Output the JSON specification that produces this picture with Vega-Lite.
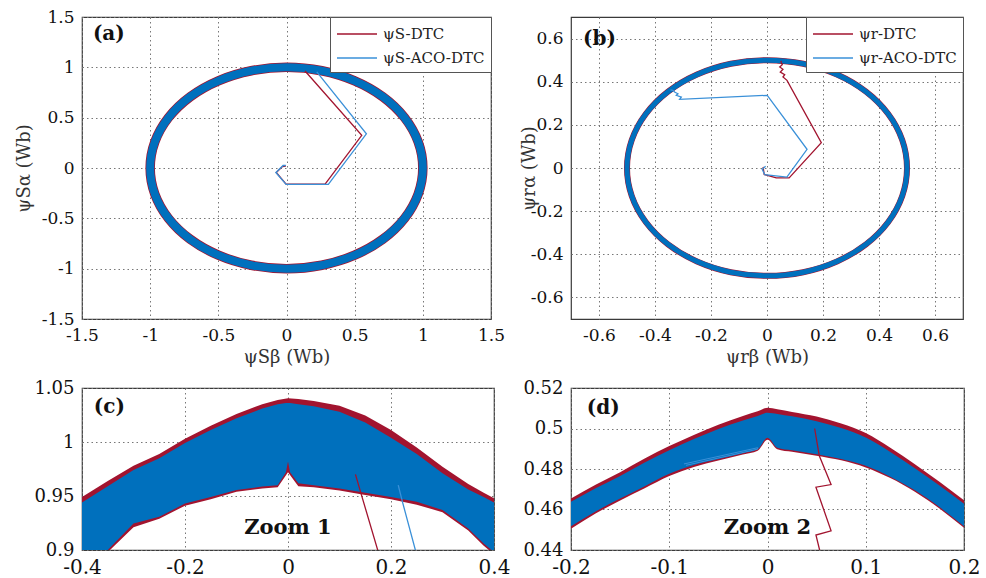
{
  "$schema": "https://vega.github.io/schema/vega-lite/v6.json",
  "background": "white",
  "padding": {"left": 14, "top": 7, "right": 4, "bottom": 2},
  "datasets": {
    "ring1": [
      {"i":0,"b":0,"a":1},{"i":1,"b":0.2588,"a":0.9659},{"i":2,"b":0.5,"a":0.866},{"i":3,"b":0.7071,"a":0.7071},
      {"i":4,"b":0.866,"a":0.5},{"i":5,"b":0.9659,"a":0.2588},{"i":6,"b":1,"a":0},{"i":7,"b":0.9659,"a":-0.2588},
      {"i":8,"b":0.866,"a":-0.5},{"i":9,"b":0.7071,"a":-0.7071},{"i":10,"b":0.5,"a":-0.866},{"i":11,"b":0.2588,"a":-0.9659},
      {"i":12,"b":0,"a":-1},{"i":13,"b":-0.2588,"a":-0.9659},{"i":14,"b":-0.5,"a":-0.866},{"i":15,"b":-0.7071,"a":-0.7071},
      {"i":16,"b":-0.866,"a":-0.5},{"i":17,"b":-0.9659,"a":-0.2588},{"i":18,"b":-1,"a":0},{"i":19,"b":-0.9659,"a":0.2588},
      {"i":20,"b":-0.866,"a":0.5},{"i":21,"b":-0.7071,"a":0.7071},{"i":22,"b":-0.5,"a":0.866},{"i":23,"b":-0.2588,"a":0.9659}
    ],
    "ring2": [
      {"i":0,"b":0,"a":0.5},{"i":1,"b":0.1294,"a":0.483},{"i":2,"b":0.25,"a":0.433},{"i":3,"b":0.3536,"a":0.3536},
      {"i":4,"b":0.433,"a":0.25},{"i":5,"b":0.483,"a":0.1294},{"i":6,"b":0.5,"a":0},{"i":7,"b":0.483,"a":-0.1294},
      {"i":8,"b":0.433,"a":-0.25},{"i":9,"b":0.3536,"a":-0.3536},{"i":10,"b":0.25,"a":-0.433},{"i":11,"b":0.1294,"a":-0.483},
      {"i":12,"b":0,"a":-0.5},{"i":13,"b":-0.1294,"a":-0.483},{"i":14,"b":-0.25,"a":-0.433},{"i":15,"b":-0.3536,"a":-0.3536},
      {"i":16,"b":-0.433,"a":-0.25},{"i":17,"b":-0.483,"a":-0.1294},{"i":18,"b":-0.5,"a":0},{"i":19,"b":-0.483,"a":0.1294},
      {"i":20,"b":-0.433,"a":0.25},{"i":21,"b":-0.3536,"a":0.3536},{"i":22,"b":-0.25,"a":0.433},{"i":23,"b":-0.1294,"a":0.483}
    ],
    "pathA": [
      {"s":"ψS-DTC","i":0,"b":-0.005,"a":0.02},{"s":"ψS-DTC","i":1,"b":-0.03,"a":0.015},{"s":"ψS-DTC","i":2,"b":-0.075,"a":-0.045},
      {"s":"ψS-DTC","i":3,"b":-0.003,"a":-0.16},{"s":"ψS-DTC","i":4,"b":0.283,"a":-0.16},{"s":"ψS-DTC","i":5,"b":0.552,"a":0.325},
      {"s":"ψS-DTC","i":6,"b":0.136,"a":0.964},
      {"s":"ψS-ACO-DTC","i":0,"b":-0.005,"a":0.025},{"s":"ψS-ACO-DTC","i":1,"b":-0.025,"a":0.025},{"s":"ψS-ACO-DTC","i":2,"b":-0.078,"a":-0.045},
      {"s":"ψS-ACO-DTC","i":3,"b":-0.003,"a":-0.163},{"s":"ψS-ACO-DTC","i":4,"b":0.307,"a":-0.163},{"s":"ψS-ACO-DTC","i":5,"b":0.586,"a":0.34},
      {"s":"ψS-ACO-DTC","i":6,"b":0.222,"a":0.954}
    ],
    "pathB": [
      {"s":"ψr-DTC","i":0,"b":-0.014,"a":0.005},{"s":"ψr-DTC","i":1,"b":-0.01,"a":-0.03},{"s":"ψr-DTC","i":2,"b":0.033,"a":-0.046},
      {"s":"ψr-DTC","i":3,"b":0.079,"a":-0.046},{"s":"ψr-DTC","i":4,"b":0.194,"a":0.117},{"s":"ψr-DTC","i":5,"b":0.0714,"a":0.4065},
      {"s":"ψr-DTC","i":6,"b":0.057,"a":0.4218},{"s":"ψr-DTC","i":7,"b":0.0632,"a":0.4325},{"s":"ψr-DTC","i":8,"b":0.0475,"a":0.445},
      {"s":"ψr-DTC","i":9,"b":0.057,"a":0.4575},{"s":"ψr-DTC","i":10,"b":0.0454,"a":0.4682},{"s":"ψr-DTC","i":11,"b":0.0546,"a":0.4789},
      {"s":"ψr-DTC","i":12,"b":0.0511,"a":0.4881},{"s":"ψr-DTC","i":13,"b":0.05,"a":0.497},
      {"s":"ψr-ACO-DTC","i":0,"b":-0.005,"a":0.008},{"s":"ψr-ACO-DTC","i":1,"b":-0.017,"a":-0.006},{"s":"ψr-ACO-DTC","i":2,"b":-0.008,"a":-0.031},
      {"s":"ψr-ACO-DTC","i":3,"b":0.071,"a":-0.042},{"s":"ψr-ACO-DTC","i":4,"b":0.143,"a":0.0866},{"s":"ψr-ACO-DTC","i":5,"b":0.001,"a":0.337},
      {"s":"ψr-ACO-DTC","i":6,"b":-0.312,"a":0.3185},{"s":"ψr-ACO-DTC","i":7,"b":-0.306,"a":0.329},{"s":"ψr-ACO-DTC","i":8,"b":-0.324,"a":0.337},
      {"s":"ψr-ACO-DTC","i":9,"b":-0.318,"a":0.344},{"s":"ψr-ACO-DTC","i":10,"b":-0.33,"a":0.352},{"s":"ψr-ACO-DTC","i":11,"b":-0.336,"a":0.36},
      {"s":"ψr-ACO-DTC","i":12,"b":-0.345,"a":0.362}
    ],
    "bandCr": [
      {"b":-0.4,"lo":0.885,"hi":0.949},{"b":-0.35,"lo":0.898,"hi":0.964},{"b":-0.3,"lo":0.921,"hi":0.978},{"b":-0.25,"lo":0.929,"hi":0.989},
      {"b":-0.2,"lo":0.941,"hi":1.003},{"b":-0.15,"lo":0.947,"hi":1.015},{"b":-0.1,"lo":0.954,"hi":1.026},{"b":-0.05,"lo":0.957,"hi":1.035},
      {"b":-0.02,"lo":0.958,"hi":1.039},{"b":0,"lo":0.972,"hi":1.0404},{"b":0.02,"lo":0.959,"hi":1.0398},{"b":0.05,"lo":0.958,"hi":1.0379},
      {"b":0.1,"lo":0.955,"hi":1.0335},{"b":0.15,"lo":0.951,"hi":1.0245},{"b":0.2,"lo":0.947,"hi":1.011},{"b":0.25,"lo":0.942,"hi":0.995},
      {"b":0.3,"lo":0.935,"hi":0.977},{"b":0.35,"lo":0.918,"hi":0.961},{"b":0.38,"lo":0.904,"hi":0.953},{"b":0.4,"lo":0.896,"hi":0.948}
    ],
    "bandCb": [
      {"b":-0.4,"lo":0.887,"hi":0.944},{"b":-0.35,"lo":0.9,"hi":0.959},{"b":-0.3,"lo":0.9245,"hi":0.974},{"b":-0.25,"lo":0.9307,"hi":0.985},
      {"b":-0.2,"lo":0.943,"hi":0.999},{"b":-0.15,"lo":0.949,"hi":1.011},{"b":-0.1,"lo":0.9556,"hi":1.022},{"b":-0.05,"lo":0.9587,"hi":1.031},
      {"b":-0.02,"lo":0.96,"hi":1.035},{"b":-0.004,"lo":0.972,"hi":1.036},{"b":0,"lo":0.982,"hi":1.036},{"b":0.004,"lo":0.972,"hi":1.036},{"b":0.02,"lo":0.9618,"hi":1.035},{"b":0.05,"lo":0.96,"hi":1.033},
      {"b":0.1,"lo":0.957,"hi":1.028},{"b":0.15,"lo":0.953,"hi":1.018},{"b":0.2,"lo":0.949,"hi":1.004},{"b":0.25,"lo":0.9447,"hi":0.989},
      {"b":0.3,"lo":0.937,"hi":0.971},{"b":0.35,"lo":0.92,"hi":0.956},{"b":0.38,"lo":0.906,"hi":0.949},{"b":0.4,"lo":0.898,"hi":0.944}
    ],
    "lineC": [
      {"s":"S-DTC","i":0,"b":0.131,"a":0.97},{"s":"S-DTC","i":1,"b":0.142,"a":0.952},{"s":"S-DTC","i":2,"b":0.176,"a":0.897},
      {"s":"S-ACO-DTC","i":0,"b":0.214,"a":0.96},{"s":"S-ACO-DTC","i":1,"b":0.222,"a":0.945},{"s":"S-ACO-DTC","i":2,"b":0.249,"a":0.897}
    ],
    "bandDr": [
      {"b":-0.2,"lo":0.4505,"hi":0.4654},{"b":-0.175,"lo":0.458,"hi":0.4722},{"b":-0.15,"lo":0.4645,"hi":0.4784},{"b":-0.125,"lo":0.4705,"hi":0.4852},
      {"b":-0.1,"lo":0.4765,"hi":0.4913},{"b":-0.075,"lo":0.481,"hi":0.4968},{"b":-0.05,"lo":0.4842,"hi":0.5019},{"b":-0.025,"lo":0.4872,"hi":0.5062},
      {"b":-0.01,"lo":0.489,"hi":0.5085},{"b":0,"lo":0.4945,"hi":0.5102},{"b":0.01,"lo":0.4898,"hi":0.5095},{"b":0.025,"lo":0.4885,"hi":0.5082},
      {"b":0.05,"lo":0.4866,"hi":0.5059},{"b":0.075,"lo":0.4843,"hi":0.5025},{"b":0.1,"lo":0.4808,"hi":0.4978},{"b":0.125,"lo":0.4755,"hi":0.4905},
      {"b":0.15,"lo":0.4688,"hi":0.4824},{"b":0.175,"lo":0.4605,"hi":0.4737},{"b":0.2,"lo":0.451,"hi":0.4646}
    ],
    "bandDb": [
      {"b":-0.2,"lo":0.4517,"hi":0.4638},{"b":-0.175,"lo":0.459,"hi":0.4705},{"b":-0.15,"lo":0.4654,"hi":0.4766},{"b":-0.125,"lo":0.4715,"hi":0.4832},
      {"b":-0.1,"lo":0.4776,"hi":0.4893},{"b":-0.075,"lo":0.482,"hi":0.4948},{"b":-0.05,"lo":0.4849,"hi":0.4998},{"b":-0.025,"lo":0.4878,"hi":0.504},
      {"b":-0.01,"lo":0.4897,"hi":0.5062},{"b":0,"lo":0.4954,"hi":0.5078},{"b":0.01,"lo":0.4905,"hi":0.5072},{"b":0.025,"lo":0.4892,"hi":0.506},
      {"b":0.05,"lo":0.4873,"hi":0.5036},{"b":0.075,"lo":0.485,"hi":0.5002},{"b":0.1,"lo":0.4816,"hi":0.4955},{"b":0.125,"lo":0.4762,"hi":0.4884},
      {"b":0.15,"lo":0.4695,"hi":0.4804},{"b":0.175,"lo":0.4612,"hi":0.4718},{"b":0.2,"lo":0.4517,"hi":0.4628}
    ],
    "lineD": [
      {"s":"r-DTC","i":0,"b":0.048,"a":0.5},{"s":"r-DTC","i":1,"b":0.0527,"a":0.4865},{"s":"r-DTC","i":2,"b":0.0647,"a":0.4723},
      {"s":"r-DTC","i":3,"b":0.0493,"a":0.471},{"s":"r-DTC","i":4,"b":0.0647,"a":0.4495},{"s":"r-DTC","i":5,"b":0.0493,"a":0.4474},
      {"s":"r-DTC","i":6,"b":0.0534,"a":0.4393}
    ],
    "lineDb": [
      {"i":0,"b":-0.085,"a":0.4825},{"i":1,"b":-0.01,"a":0.4905},{"i":2,"b":-0.01,"a":0.4898},{"i":3,"b":-0.083,"a":0.4818}
    ]
  },
  "columns": 2,
  "align": "none",
  "bounds": "flush",
  "spacing": {"row": 69, "column": 77},
  "resolve": {
    "scale": {"x": "independent", "y": "independent", "color": "independent"},
    "legend": {"color": "independent"}
  },
  "concat": [
    {
      "width": 409, "height": 302,
      "layer": [
        {
          "data": {"name": "ring1"},
          "mark": {"type": "line", "interpolate": "cardinal-closed", "color": "#A2142F", "strokeWidth": 9.5},
          "encoding": {
            "x": {"field": "b", "type": "quantitative", "scale": {"domain": [-1.5, 1.5], "nice": false, "zero": false},
                  "axis": {"values": [-1.5, -1, -0.5, 0, 0.5, 1, 1.5], "title": "ψSβ (Wb)", "format": "~g", "labelExpr": "replace(datum.label,'−','-')", "labelPadding": 8, "titlePadding": 5}},
            "y": {"field": "a", "type": "quantitative", "scale": {"domain": [-1.5, 1.5], "nice": false, "zero": false},
                  "axis": {"values": [-1.5, -1, -0.5, 0, 0.5, 1, 1.5], "title": "ψSα (Wb)", "format": "~g", "labelExpr": "replace(datum.label,'−','-')", "titlePadding": 8}},
            "order": {"field": "i", "type": "quantitative"}
          }
        },
        {
          "data": {"name": "ring1"},
          "mark": {"type": "line", "interpolate": "cardinal-closed", "color": "#0070BD", "strokeWidth": 8},
          "encoding": {
            "x": {"field": "b", "type": "quantitative"},
            "y": {"field": "a", "type": "quantitative"},
            "order": {"field": "i", "type": "quantitative"}
          }
        },
        {
          "data": {"name": "pathA"},
          "mark": {"type": "line", "strokeWidth": 1.3},
          "encoding": {
            "x": {"field": "b", "type": "quantitative"},
            "y": {"field": "a", "type": "quantitative"},
            "order": {"field": "i", "type": "quantitative"},
            "color": {"field": "s", "type": "nominal", "scale": {"domain": ["ψS-DTC", "ψS-ACO-DTC"], "range": ["#A2142F", "#3A90D8"]},
                      "legend": {"title": null, "orient": "top-right", "offset": 0, "strokeColor": "#555", "fillColor": "white", "padding": 6, "rowPadding": 5, "symbolType": "M-1,0H3", "symbolSize": 400, "symbolStrokeWidth": 1.5, "labelFont": "DejaVu Serif", "labelFontSize": 15, "labelOffset": 25, "labelLimit": 250, "labelColor": "#222"}}
          }
        },
        {
          "data": {"values": [{"t": "(a)"}]},
          "mark": {"type": "text", "align": "left", "baseline": "middle", "font": "DejaVu Serif", "fontSize": 20, "fontWeight": "bold", "color": "#111"},
          "encoding": {"x": {"datum": -1.42}, "y": {"datum": 1.33}, "text": {"field": "t"}}
        }
      ]
    },
    {
      "width": 392, "height": 302,
      "layer": [
        {
          "data": {"name": "ring2"},
          "mark": {"type": "line", "interpolate": "cardinal-closed", "color": "#A2142F", "strokeWidth": 6},
          "encoding": {
            "x": {"field": "b", "type": "quantitative", "scale": {"domain": [-0.7, 0.7], "nice": false, "zero": false},
                  "axis": {"values": [-0.6, -0.4, -0.2, 0, 0.2, 0.4, 0.6], "title": "ψrβ (Wb)", "format": "~g", "labelExpr": "replace(datum.label,'−','-')", "labelPadding": 8, "titlePadding": 5}},
            "y": {"field": "a", "type": "quantitative", "scale": {"domain": [-0.7, 0.7], "nice": false, "zero": false},
                  "axis": {"values": [-0.6, -0.4, -0.2, 0, 0.2, 0.4, 0.6], "title": "ψrα (Wb)", "format": "~g", "labelExpr": "replace(datum.label,'−','-')", "titlePadding": -8}},
            "order": {"field": "i", "type": "quantitative"}
          }
        },
        {
          "data": {"name": "ring2"},
          "mark": {"type": "line", "interpolate": "cardinal-closed", "color": "#0070BD", "strokeWidth": 5},
          "encoding": {
            "x": {"field": "b", "type": "quantitative"},
            "y": {"field": "a", "type": "quantitative"},
            "order": {"field": "i", "type": "quantitative"}
          }
        },
        {
          "data": {"name": "pathB"},
          "mark": {"type": "line", "strokeWidth": 1.3},
          "encoding": {
            "x": {"field": "b", "type": "quantitative"},
            "y": {"field": "a", "type": "quantitative"},
            "order": {"field": "i", "type": "quantitative"},
            "color": {"field": "s", "type": "nominal", "scale": {"domain": ["ψr-DTC", "ψr-ACO-DTC"], "range": ["#A2142F", "#3A90D8"]},
                      "legend": {"title": null, "orient": "top-right", "offset": 0, "strokeColor": "#555", "fillColor": "white", "padding": 6, "rowPadding": 5, "symbolType": "M-1,0H3", "symbolSize": 400, "symbolStrokeWidth": 1.5, "labelFont": "DejaVu Serif", "labelFontSize": 15, "labelOffset": 25, "labelLimit": 250, "labelColor": "#222"}}
          }
        },
        {
          "data": {"values": [{"t": "(b)"}]},
          "mark": {"type": "text", "align": "left", "baseline": "middle", "font": "DejaVu Serif", "fontSize": 20, "fontWeight": "bold", "color": "#111"},
          "encoding": {"x": {"datum": -0.657}, "y": {"datum": 0.6}, "text": {"field": "t"}}
        }
      ]
    },
    {
      "width": 412, "height": 162,
      "layer": [
        {
          "data": {"name": "bandCr"},
          "mark": {"type": "area", "color": "#A2142F", "opacity": 1, "clip": true},
          "encoding": {
            "x": {"field": "b", "type": "quantitative", "scale": {"domain": [-0.4, 0.4], "nice": false, "zero": false},
                  "axis": {"values": [-0.4, -0.2, 0, 0.2, 0.4], "title": null, "format": "~g", "labelExpr": "replace(datum.label,'−','-')", "labelFontSize": 20, "labelPadding": 7}},
            "y": {"field": "lo", "type": "quantitative", "scale": {"domain": [0.9, 1.05], "nice": false, "zero": false},
                  "axis": {"values": [0.9, 0.95, 1, 1.05], "title": null, "format": "~g", "labelFontSize": 18}},
            "y2": {"field": "hi"}
          }
        },
        {
          "data": {"name": "bandCb"},
          "mark": {"type": "area", "color": "#0070BD", "opacity": 1, "clip": true},
          "encoding": {
            "x": {"field": "b", "type": "quantitative"},
            "y": {"field": "lo", "type": "quantitative"},
            "y2": {"field": "hi"}
          }
        },
        {
          "data": {"name": "lineC"},
          "mark": {"type": "line", "strokeWidth": 1.3, "clip": true},
          "encoding": {
            "x": {"field": "b", "type": "quantitative"},
            "y": {"field": "a", "type": "quantitative"},
            "order": {"field": "i", "type": "quantitative"},
            "color": {"field": "s", "type": "nominal", "scale": {"domain": ["S-DTC", "S-ACO-DTC"], "range": ["#A2142F", "#3A90D8"]}, "legend": null}
          }
        },
        {
          "data": {"values": [{"t": "(c)", "b": -0.377, "a": 1.032}]},
          "mark": {"type": "text", "align": "left", "baseline": "middle", "font": "DejaVu Serif", "fontSize": 20, "fontWeight": "bold", "color": "#111"},
          "encoding": {"x": {"field": "b", "type": "quantitative"}, "y": {"field": "a", "type": "quantitative"}, "text": {"field": "t"}}
        },
        {
          "data": {"values": [{"t": "Zoom 1", "b": 0, "a": 0.92}]},
          "mark": {"type": "text", "align": "center", "baseline": "middle", "font": "DejaVu Serif", "fontSize": 21, "fontWeight": "bold", "color": "#111"},
          "encoding": {"x": {"field": "b", "type": "quantitative"}, "y": {"field": "a", "type": "quantitative"}, "text": {"field": "t"}}
        }
      ]
    },
    {
      "width": 393, "height": 162,
      "layer": [
        {
          "data": {"name": "bandDr"},
          "mark": {"type": "area", "color": "#A2142F", "opacity": 1, "clip": true, "interpolate": "monotone"},
          "encoding": {
            "x": {"field": "b", "type": "quantitative", "scale": {"domain": [-0.2, 0.2], "nice": false, "zero": false},
                  "axis": {"values": [-0.2, -0.1, 0, 0.1, 0.2], "title": null, "format": "~g", "labelExpr": "replace(datum.label,'−','-')", "labelFontSize": 20, "labelPadding": 7}},
            "y": {"field": "lo", "type": "quantitative", "scale": {"domain": [0.44, 0.52], "nice": false, "zero": false},
                  "axis": {"values": [0.44, 0.46, 0.48, 0.5, 0.52], "title": null, "format": "~g", "labelFontSize": 18}},
            "y2": {"field": "hi"}
          }
        },
        {
          "data": {"name": "bandDb"},
          "mark": {"type": "area", "color": "#0070BD", "opacity": 1, "clip": true, "interpolate": "monotone"},
          "encoding": {
            "x": {"field": "b", "type": "quantitative"},
            "y": {"field": "lo", "type": "quantitative"},
            "y2": {"field": "hi"}
          }
        },
        {
          "data": {"name": "lineDb"},
          "mark": {"type": "line", "strokeWidth": 1, "color": "#3A90D8", "clip": true},
          "encoding": {
            "x": {"field": "b", "type": "quantitative"},
            "y": {"field": "a", "type": "quantitative"},
            "order": {"field": "i", "type": "quantitative"}
          }
        },
        {
          "data": {"name": "lineD"},
          "mark": {"type": "line", "strokeWidth": 1.3, "color": "#A2142F", "clip": true},
          "encoding": {
            "x": {"field": "b", "type": "quantitative"},
            "y": {"field": "a", "type": "quantitative"},
            "order": {"field": "i", "type": "quantitative"}
          }
        },
        {
          "data": {"values": [{"t": "(d)", "b": -0.184, "a": 0.5101}]},
          "mark": {"type": "text", "align": "left", "baseline": "middle", "font": "DejaVu Serif", "fontSize": 20, "fontWeight": "bold", "color": "#111"},
          "encoding": {"x": {"field": "b", "type": "quantitative"}, "y": {"field": "a", "type": "quantitative"}, "text": {"field": "t"}}
        },
        {
          "data": {"values": [{"t": "Zoom 2", "b": 0, "a": 0.4507}]},
          "mark": {"type": "text", "align": "center", "baseline": "middle", "font": "DejaVu Serif", "fontSize": 21, "fontWeight": "bold", "color": "#111"},
          "encoding": {"x": {"field": "b", "type": "quantitative"}, "y": {"field": "a", "type": "quantitative"}, "text": {"field": "t"}}
        }
      ]
    }
  ],
  "config": {
    "font": "DejaVu Serif",
    "view": {"stroke": "#3a3a3a", "strokeWidth": 1.2},
    "text": {"font": "DejaVu Serif"},
    "legend": {"labelFont": "DejaVu Serif"},
    "axis": {
      "labelFont": "DejaVu Serif", "labelFontSize": 17, "labelColor": "#111",
      "titleFont": "DejaVu Serif", "titleFontSize": 18, "titleColor": "#333", "titleFontWeight": "normal",
      "grid": true, "gridColor": "#777", "gridDash": [1.5, 3], "gridWidth": 1, "gridOpacity": 1,
      "domain": false, "ticks": false, "labelPadding": 8, "labelFlush": false, "labelOverlap": false
    }
  }
}
